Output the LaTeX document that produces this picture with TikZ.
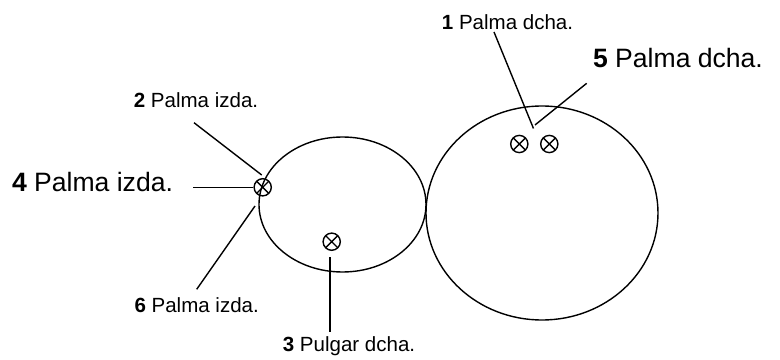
\documentclass[tikz,border=0pt]{standalone}
\usepackage{fontspec}
\setmainfont{Liberation Sans}

\begin{document}
\begin{tikzpicture}[
    small label/.style={anchor=base, inner sep=0pt, font=\fontsize{14.6}{17}\selectfont},
    big label/.style={anchor=base, inner sep=0pt, font=\fontsize{18.9}{22}\selectfont},
    sensor/.style={draw, circle, line width=0.035cm, minimum size=0.43cm, inner sep=0pt,
      path picture={\draw [line width=0.035cm]
        (path picture bounding box.north west) -- (path picture bounding box.south east)
        (path picture bounding box.south west) -- (path picture bounding box.north east);}},
    lead/.style={line width=0.035cm}
  ]
  \useasboundingbox (0.000000,0.000000) rectangle (19.500000,9.000000);

  % Drawing ellipse left hand
  \draw [line width=0.035cm] (8.562500,3.887500) ellipse (2.087500 and 1.687500);%

  % Drawing ellipse right hand
  \draw [line width=0.035cm] (13.550000,3.675000) ellipse (2.900000 and 2.675000);%

  % Marking sensors
  \node [sensor] (sL) at (6.567500,4.317500) {};%
  \node [sensor] (sB) at (8.292500,2.957500) {};%
  \node [sensor] (sR1) at (12.982500,5.400000) {};%
  \node [sensor] (sR2) at (13.732500,5.400000) {};%

  % Marking labels
  \node [small label] (lab1) at (12.687500,8.262500) {\textbf{1} Palma dcha.};%
  \node [small label] (lab2) at (4.900000,6.300000) {\textbf{2} Palma izda.};%
  \node [small label] (lab3) at (8.725000,0.207500) {\textbf{3} Pulgar dcha.};%
  \node [big label] (lab4) at (2.312500,4.207500) {\textbf{4} Palma izda.};%
  \node [big label] (lab5) at (16.950000,7.317500) {\textbf{5} Palma dcha.};%
  \node [small label] (lab6) at (4.917500,1.175000) {\textbf{6} Palma izda.};%

  % Lead ends
  \coordinate (t1) at (12.350000,8.200000);%
  \coordinate (e1) at (13.337500,5.787500);%
  \coordinate (t2) at (4.850000,5.932500);%
  \coordinate (e2) at (6.542500,4.625000);%
  \coordinate (t3) at (8.250000,0.707500);%
  \coordinate (e3) at (8.250000,2.567500);%
  \coordinate (t4) at (4.832500,4.317500);%
  \coordinate (t5) at (14.667500,6.917500);%
  \coordinate (e5) at (13.375000,5.875000);%
  \coordinate (t6) at (4.917500,1.767500);%
  \coordinate (e6) at (6.375000,3.850000);%

  % Drawing leads
  \draw [lead] (t1) -- (e1);%
  \draw [lead] (t2) -- (e2);%
  \draw [lead] (t3) -- (e3);%
  \draw [lead] (t4) -- (sL);%
  \draw [lead] (t5) -- (e5);%
  \draw [lead] (t6) -- (e6);%
\end{tikzpicture}
\end{document}
